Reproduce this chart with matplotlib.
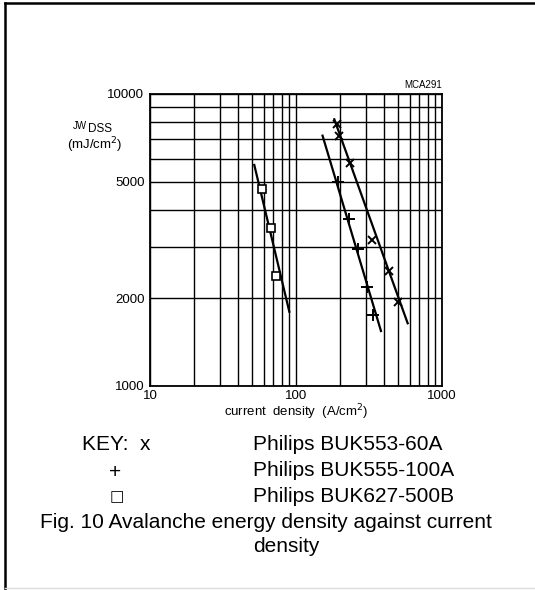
import numpy as np
import matplotlib.pyplot as plt
from matplotlib.lines import Line2D
from matplotlib.ticker import FixedLocator, NullFormatter

# data
x553 = [190, 198, 234, 330, 434, 498]
y553 = [7900, 7200, 5800, 3160, 2480, 1940]
x555 = [195, 230, 265, 305, 338]
y555 = [5000, 3730, 2940, 2190, 1750]
x627 = [58.5, 67.4, 72.9]
y627 = [4720, 3480, 2390]

# fitted straight lines (end points)
fit553_x = [183, 582]
fit553_y = [8190, 1640]
fit555_x = [152, 382]
fit555_y = [7200, 1543]
fit627_x = [51.8, 90]
fit627_y = [5714, 1797]

key_labels = ["Philips BUK553-60A", "Philips BUK555-100A", "Philips BUK627-500B"]

W, H = 535, 590
fig = plt.figure(figsize=(W / 100, H / 100), dpi=100)
plt.rcParams['font.family'] = ['Liberation Sans', 'DejaVu Sans']

ax = fig.add_axes([150 / W, 1 - 386 / H, 292 / W, 292 / H])
ax.set_xscale("log")
ax.set_yscale("log")
ax.set_xlim(10, 1000)
ax.set_ylim(1000, 10000)

# full log grid
xg = [v * d for d in (10, 100) for v in range(1, 10)] + [1000]
yg = [v * 1000 for v in range(1, 11)]
ax.xaxis.set_major_locator(FixedLocator([10, 100, 1000]))
ax.xaxis.set_minor_locator(FixedLocator(xg))
ax.yaxis.set_major_locator(FixedLocator([1000, 2000, 5000, 10000]))
ax.yaxis.set_minor_locator(FixedLocator(yg))
ax.xaxis.set_minor_formatter(NullFormatter())
ax.yaxis.set_minor_formatter(NullFormatter())
ax.set_xticklabels(["10", "100", "1000"])
ax.set_yticklabels(["1000", "2000", "5000", "10000"])
ax.grid(True, which="both", color="black", lw=1.0)
ax.tick_params(which="both", length=0, labelsize=9.5)
ax.tick_params(axis="x", pad=3)
ax.tick_params(axis="y", pad=4)
for s in ax.spines.values():
    s.set_linewidth(1.3)

# lines and markers
ax.plot(fit553_x, fit553_y, color="black", lw=1.6)
ax.plot(fit555_x, fit555_y, color="black", lw=1.6)
ax.plot(fit627_x, fit627_y, color="black", lw=1.6)
ax.plot(x553, y553, "x", color="black", ms=6, mew=1.4)
ax.plot(x555, y555, "+", color="black", ms=8, mew=1.4)
ax.plot(x627, y627, "s", color="black", mfc="white", ms=5.5, mew=1.2)

# axis texts
fig.text(87 / W, 1 - 126 / H, "JW", fontsize=7, ha="right", va="center")
fig.text(88 / W, 1 - 129.5 / H, "DSS", fontsize=8.5, ha="left", va="center")
fig.text(95 / W, 1 - 145.5 / H, "(mJ/cm$^2$)", fontsize=9.5, ha="center", va="center")
fig.text(296 / W, 1 - 412 / H, "current  density  (A/cm$^2$)", fontsize=9.5,
         ha="center", va="center")
fig.text(442 / W, 1 - 85 / H, "MCA291", fontsize=7, ha="right", va="center")

# key
fs = 15
fig.text(82 / W, 1 - 445 / H, "KEY:  x", fontsize=fs, ha="left", va="center")
fig.text(115 / W, 1 - 472 / H, "+", fontsize=fs, ha="center", va="center")
fig.text(117 / W, 1 - 497 / H, "\u25a1", fontsize=11, ha="center", va="center",
         family=["DejaVu Sans"])
for i, lab in enumerate(key_labels):
    fig.text(253 / W, 1 - (445 + 26 * i) / H, lab, fontsize=fs, ha="left", va="center")
fig.text(266 / W, 1 - 523 / H, "Fig. 10 Avalanche energy density against current",
         fontsize=fs, ha="center", va="center")
fig.text(286 / W, 1 - 547 / H, "density", fontsize=fs, ha="center", va="center")

# frame around the figure
fig.add_artist(Line2D([5 / W, 5 / W], [0, 1 - 3 / H], color="black", lw=1.8))
fig.add_artist(Line2D([5 / W, 1], [1 - 3 / H, 1 - 3 / H], color="black", lw=1.8))
fig.add_artist(Line2D([5 / W, 1], [2 / H, 2 / H], color="#dddddd", lw=1))

fig.savefig("out.png", dpi=100)
